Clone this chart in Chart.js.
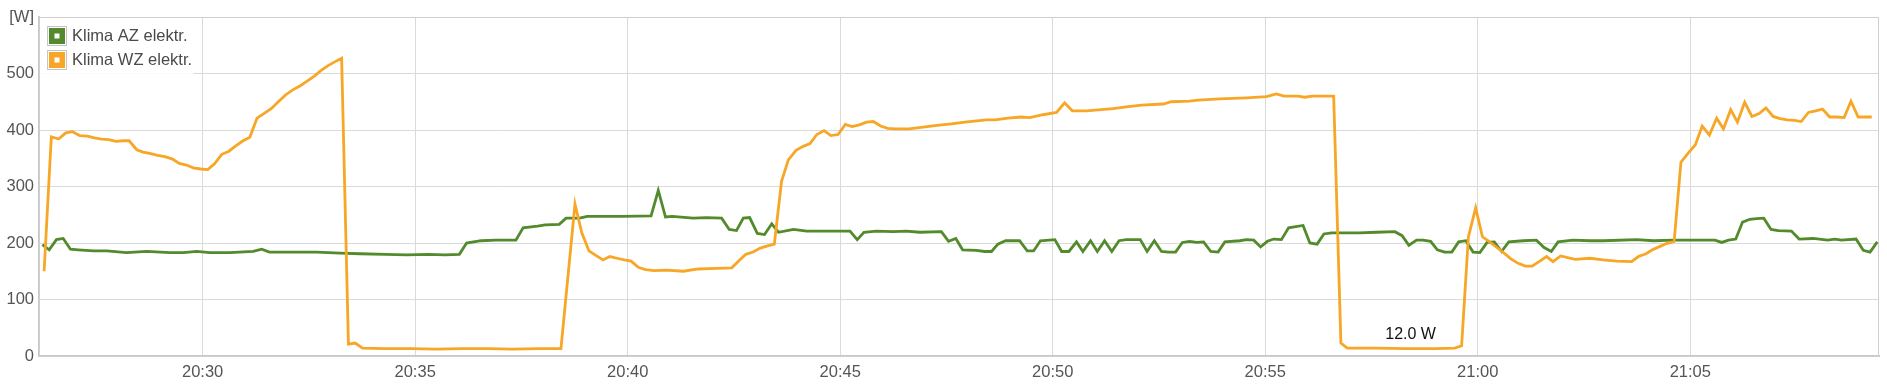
<!DOCTYPE html>
<html>
<head>
<meta charset="utf-8">
<script src="https://cdn.jsdelivr.net/npm/chart.js@4/dist/chart.umd.min.js"></script>
<style>
  html, body { margin: 0; padding: 0; background: #fff; }
  #wrap { width: 1887px; height: 389px; }
</style>
</head>
<body>
<div id="wrap"><canvas id="chart" width="1887" height="389"></canvas></div>
<script>
// Zeiten in Minuten nach 20:00, Werte in Watt
const azMin = [26.23,26.39,26.56,26.72,26.89,27.07,27.43,27.74,28.21,28.68,29.23,29.55,29.86,30.17,30.64,31.19,31.39,31.57,32.05,32.68,33.23,33.7,34.3,34.8,35.3,35.7,36.04,36.21,36.55,36.9,37.37,37.54,37.88,38.06,38.39,38.55,38.87,39.05,39.87,40.55,40.72,40.89,41.05,41.54,41.85,42.21,42.39,42.56,42.72,42.87,43.05,43.22,43.39,43.55,43.9,44.21,44.68,45.23,45.4,45.56,45.85,46.25,46.56,46.87,47.38,47.55,47.72,47.88,48.2,48.4,48.56,48.71,48.89,49.22,49.4,49.55,49.71,50.05,50.21,50.38,50.56,50.71,50.89,51.05,51.22,51.39,51.56,51.73,52.06,52.22,52.39,52.56,52.72,52.89,53.05,53.22,53.39,53.55,53.72,53.89,54.05,54.4,54.56,54.73,54.89,55.05,55.2,55.38,55.55,55.72,55.89,56.05,56.22,56.38,56.56,57.22,57.62,58.05,58.22,58.38,58.56,58.71,58.89,59.05,59.22,59.39,59.55,59.72,59.89,60.05,60.22,60.39,60.56,60.73,61.07,61.38,61.56,61.73,61.89,62.24,62.64,62.95,63.74,64.13,64.6,65.31,65.58,65.74,65.9,66.07,66.23,66.4,66.56,66.73,66.9,67.07,67.38,67.56,67.89,68.23,68.4,68.56,68.9,69.07,69.23,69.4];
const azWatt = [197,188,206,208,189,188,186,186,183,185,183,183,185,183,183,185,189,184,184,184,182,181,180,179,180,179,180,200,204,205,205,227,230,232,233,244,244,247,247,248,293,246,247,244,245,244,224,222,244,245,217,215,234,219,224,221,221,221,206,219,221,220,221,219,220,203,208,188,187,185,185,198,204,204,186,186,204,206,185,185,202,185,204,185,204,185,204,206,206,185,204,185,184,184,201,203,201,202,185,184,202,204,206,205,193,203,207,206,227,229,231,200,198,216,218,218,219,220,213,196,205,205,203,188,184,184,202,204,184,183,201,202,185,202,204,205,192,185,202,205,204,204,206,204,205,205,205,201,205,207,237,242,243,244,224,222,221,207,208,205,207,205,207,187,184,202];

const wzMin = [26.27,26.44,26.61,26.78,26.94,27.11,27.29,27.45,27.62,27.79,27.96,28.13,28.27,28.45,28.6,28.78,28.94,29.11,29.28,29.45,29.62,29.78,29.95,30.12,30.28,30.45,30.61,30.78,30.95,31.11,31.28,31.44,31.62,31.78,31.95,32.12,32.29,32.45,32.62,32.78,32.95,33.12,33.27,33.43,33.59,33.76,34.3,34.9,35.5,36.1,36.7,37.3,37.9,38.43,38.76,38.92,39.09,39.25,39.42,39.58,39.75,39.92,40.08,40.25,40.42,40.62,40.91,41.31,41.66,42.09,42.45,42.61,42.78,42.95,43.12,43.29,43.45,43.62,43.78,43.96,44.13,44.29,44.45,44.62,44.78,44.95,45.12,45.28,45.45,45.62,45.78,45.95,46.12,46.29,46.62,46.95,47.28,47.62,47.93,48.44,48.64,48.95,49.26,49.46,49.77,50.09,50.28,50.46,50.79,51.42,51.73,52.09,52.6,52.79,53.22,53.42,53.93,54.24,54.56,55.03,55.26,55.44,55.77,55.93,56.11,56.61,56.78,56.93,57.6,58.3,59.0,59.46,59.62,59.78,59.95,60.11,60.28,60.45,60.62,60.78,60.95,61.12,61.28,61.46,61.62,61.77,61.95,62.29,62.64,62.95,63.27,63.62,63.78,63.96,64.11,64.29,64.44,64.62,64.78,64.95,65.12,65.28,65.45,65.62,65.78,65.95,66.11,66.28,66.45,66.62,66.78,66.95,67.11,67.28,67.45,67.61,67.78,67.95,68.11,68.28,68.44,68.62,68.78,68.95,69.27];
const wzWatt = [150,388,384,395,397,390,389,386,384,383,380,381,381,365,361,358,355,353,349,341,338,333,331,330,340,357,362,372,381,387,421,429,438,450,462,471,478,486,495,505,514,521,527,21,23,14,13,13,12,13,13,12,13,13,269,218,186,178,170,176,173,170,168,157,153,151,152,150,154,155,156,168,180,184,191,195,198,309,347,364,371,376,392,399,390,392,410,406,409,414,415,407,403,402,402,405,408,411,414,418,418,421,423,422,427,431,448,434,434,438,441,444,446,450,451,453,455,456,457,459,464,460,460,458,460,460,23,14,14,13,13,14,18,211,262,211,202,192,182,172,164,159,159,168,176,167,177,171,173,170,168,167,176,181,188,194,199,203,343,359,374,407,391,421,402,436,414,449,424,429,439,424,420,418,417,415,431,434,437,423,423,422,451,423,423];

const seriesNames = ['Klima AZ elektr.', 'Klima WZ elektr.'];
const seriesColors = ['#528a2c', '#f7a626'];
const xTickLabels = ['20:30', '20:35', '20:40', '20:45', '20:50', '20:55', '21:00', '21:05'];
const yTickValues = [0, 100, 200, 300, 400, 500, 600];
// Beschriftung des Minimums
const minLabelMin = [58.42];
const minLabelWatt = [12.0];

const FONT = '"Liberation Sans", Arial, sans-serif';

function toMinutes(label) {
  const [h, m] = label.split(':').map(Number);
  return (h - 20) * 60 + m;
}
function fmtTime(v) {
  const t = Math.round(v);
  const h = 20 + Math.floor(t / 60);
  const m = t % 60;
  return h + ':' + String(m).padStart(2, '0');
}

// Rahmen um den Plotbereich
const frame = {
  id: 'frame',
  beforeDatasetsDraw(chart) {
    const { ctx, chartArea: a } = chart;
    ctx.save();
    ctx.strokeStyle = '#cfcfcf';
    ctx.lineWidth = 1;
    ctx.strokeRect(a.left + 0.5, a.top + 0.5, a.right - a.left - 1, a.bottom - a.top);
    ctx.restore();
  }
};

// eigene Legende oben links im Plot
const boxLegend = {
  id: 'boxLegend',
  afterDatasetsDraw(chart) {
    const { ctx, chartArea: a } = chart;
    ctx.save();
    ctx.fillStyle = 'rgba(255,255,255,0.88)';
    ctx.fillRect(a.left + 1, a.top + 1, 154, 58);
    seriesNames.forEach((name, i) => {
      const x0 = a.left + 8;
      const y0 = a.top + 9 + i * 24;
      ctx.fillStyle = '#fff';
      ctx.fillRect(x0, y0, 20, 20);
      ctx.strokeStyle = '#c4c4c4';
      ctx.lineWidth = 1;
      ctx.strokeRect(x0 + 0.5, y0 + 0.5, 19, 19);
      ctx.fillStyle = seriesColors[i];
      ctx.fillRect(x0 + 2, y0 + 2, 16, 16);
      ctx.fillStyle = '#fff';
      ctx.fillRect(x0 + 7.5, y0 + 7.5, 5, 5);
      ctx.fillStyle = '#4a4a4a';
      ctx.font = '16.5px ' + FONT;
      ctx.textBaseline = 'middle';
      ctx.textAlign = 'left';
      ctx.fillText(name, x0 + 25, y0 + 10.5);
    });
    // Minimum-Beschriftung
    const xs = chart.scales.x, ys = chart.scales.y;
    ctx.fillStyle = '#111';
    ctx.font = '16px ' + FONT;
    ctx.textAlign = 'center';
    ctx.textBaseline = 'alphabetic';
    minLabelMin.forEach((m, i) => {
      ctx.fillText(minLabelWatt[i].toFixed(1) + ' W', xs.getPixelForValue(m), ys.getPixelForValue(minLabelWatt[i]) - 10);
    });
    ctx.restore();
  }
};

const toPoints = (xs, ys) => xs.map((x, i) => ({ x, y: ys[i] }));

new Chart(document.getElementById('chart'), {
  type: 'line',
  data: {
    datasets: [
      { label: seriesNames[0], data: toPoints(azMin, azWatt), borderColor: seriesColors[0], borderWidth: 2.8, pointRadius: 0, tension: 0, order: 1 },
      { label: seriesNames[1], data: toPoints(wzMin, wzWatt), borderColor: seriesColors[1], borderWidth: 2.8, pointRadius: 0, tension: 0, order: 0 }
    ]
  },
  options: {
    responsive: false,
    animation: false,
    layout: { padding: { top: 17, right: 8, left: 0, bottom: 0 } },
    plugins: { legend: { display: false }, tooltip: { enabled: false } },
    scales: {
      x: {
        type: 'linear',
        min: 26.15,
        max: 69.44,
        afterBuildTicks: s => { s.ticks = xTickLabels.map(l => ({ value: toMinutes(l) })); },
        afterFit: s => { s.height = 33; },
        grid: { color: '#dadada', drawTicks: false },
        border: { color: '#c8c8c8', width: 2 },
        ticks: { autoSkip: false, maxRotation: 0, padding: 7, color: '#555', font: { family: FONT, size: 16.5 }, callback: v => fmtTime(v) }
      },
      y: {
        min: 0,
        max: 600,
        afterBuildTicks: s => { s.ticks = yTickValues.map(v => ({ value: v })); },
        afterFit: s => { s.width = 39; },
        grid: { color: '#dadada', drawTicks: false },
        border: { color: '#c8c8c8', width: 2 },
        ticks: { padding: 5, color: '#555', font: { family: FONT, size: 16.5 }, callback: v => v === 600 ? '[W]' : v }
      }
    }
  },
  plugins: [frame, boxLegend]
});
</script>
</body>
</html>
